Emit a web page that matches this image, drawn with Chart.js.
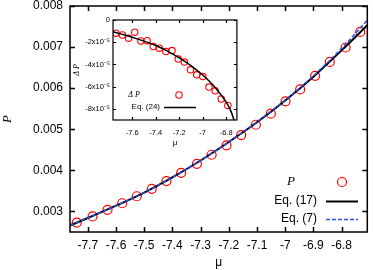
<!DOCTYPE html>
<html>
<head>
<meta charset="utf-8">
<script src="https://cdn.jsdelivr.net/npm/chart.js@4.4.0/dist/chart.umd.min.js"></script>
<style>
html, body { margin: 0; padding: 0; background: #fff; }
#wrap { position: relative; width: 373px; height: 270px; }
#main { position: absolute; left: 0; top: 0; }
#inset { position: absolute; left: 72px; top: 8px; }
</style>
</head>
<body>
<div id="wrap">
  <canvas id="main" width="373" height="270"></canvas>
  <canvas id="inset" width="170" height="142"></canvas>
</div>
<script>
// points
var muPts = [-7.739, -7.683, -7.630, -7.578, -7.526, -7.473, -7.421, -7.369, -7.313, -7.261,
             -7.208, -7.156, -7.104, -7.051, -6.999, -6.947, -6.894, -6.842, -6.786, -6.734];
var pPts = [0.00273, 0.00288, 0.00304, 0.00320, 0.00337, 0.00355, 0.00374, 0.00394, 0.00416, 0.00438,
            0.00461, 0.00486, 0.00511, 0.00538, 0.00568, 0.00597, 0.00630, 0.00664, 0.00699, 0.00737];

// curves Eq. (17) and Eq. (7)
var muLine = [-7.763, -7.7, -7.6, -7.5, -7.4, -7.3, -7.2, -7.1, -7.0, -6.9, -6.8, -6.709];
var eq17 = [0.00266, 0.00284, 0.00314, 0.00346, 0.00383, 0.00424, 0.00469, 0.00517, 0.00570, 0.00628, 0.00692, 0.00753];
var eq7 = [0.00266, 0.00284, 0.00314, 0.00346, 0.00383, 0.00424, 0.00469, 0.00518, 0.00571, 0.00630, 0.00697, 0.00765];

// inset: Delta P and Eq. (24)
var muDp = muPts.slice(0, 19);
var dP = [-1.19e-5, -1.35e-5, -1.64e-5, -1.10e-5, -1.88e-5, -1.86e-5, -2.39e-5, -2.54e-5, -2.84e-5, -2.75e-5,
          -3.52e-5, -3.79e-5, -4.48e-5, -4.93e-5, -5.09e-5, -6.04e-5, -6.37e-5, -7.11e-5, -7.69e-5];
var muEq24 = [-7.763, -7.7, -7.6, -7.5, -7.4, -7.3, -7.2, -7.1, -7.0, -6.9, -6.8, -6.76, -6.73];
var eq24 = [-1.05e-5, -1.25e-5, -1.55e-5, -1.9e-5, -2.3e-5, -2.8e-5, -3.4e-5, -4.1e-5, -4.95e-5, -6.0e-5, -7.4e-5, -8.2e-5, -9.1e-5];

// ticks
var xTicks = [-7.7, -7.6, -7.5, -7.4, -7.3, -7.2, -7.1, -7.0, -6.9, -6.8];
var xTickLabels = ['-7.7', '-7.6', '-7.5', '-7.4', '-7.3', '-7.2', '-7.1', '-7', '-6.9', '-6.8'];
var yTicks = [0.003, 0.004, 0.005, 0.006, 0.007, 0.008];
var yTickLabels = ['0.003', '0.004', '0.005', '0.006', '0.007', '0.008'];
var inXTicks = [-7.6, -7.4, -7.2, -7.0, -6.8];
var inXTickLabels = ['-7.6', '-7.4', '-7.2', '-7', '-6.8'];
var inYTicks = [0, -2e-5, -4e-5, -6e-5, -8e-5];
var inYTickLabels = ['0', '-2x10\u207B\u2075', '-4x10\u207B\u2075', '-6x10\u207B\u2075', '-8x10\u207B\u2075'];

Chart.defaults.font.family = '"Liberation Sans", Arial, sans-serif';
Chart.defaults.color = '#000';

function pairs(xs, ys) {
    return xs.map(function (x, i) { return { x: x, y: ys[i] }; });
}

function tickSetter(values) {
    return function (scale) { scale.ticks = values.map(function (v) { return { value: v }; }); };
}

function labelFrom(values, labels) {
    return function (v) {
        for (var i = 0; i < values.length; i++) if (Math.abs(values[i] - v) < 1e-9) return labels[i];
        return '';
    };
}

// fixed axis size, no extra label padding (layout padding decides the box)
function fixSize(size) {
    return function (s) {
        if (s.isHorizontal()) s.height = size; else s.width = size;
        s.paddingTop = 0; s.paddingBottom = 0; s.paddingLeft = 0; s.paddingRight = 0;
    };
}

// gnuplot style box with inward ticks on all four sides
var framePlugin = {
    id: 'frame',
    afterDraw: function (chart, args, opts) {
        var a = chart.chartArea, ctx = chart.ctx, L = opts.len;
        var sx = chart.scales.x, sy = chart.scales.y;
        ctx.save();
        ctx.strokeStyle = '#000';
        ctx.lineWidth = opts.width;
        ctx.beginPath();
        sx.ticks.forEach(function (t) {
            var px = Math.round(sx.getPixelForValue(t.value)) + 0.5;
            ctx.moveTo(px, a.bottom); ctx.lineTo(px, a.bottom - L);
            ctx.moveTo(px, a.top); ctx.lineTo(px, a.top + L);
        });
        sy.ticks.forEach(function (t) {
            var py = Math.round(sy.getPixelForValue(t.value)) + 0.5;
            ctx.moveTo(a.left, py); ctx.lineTo(a.left + L, py);
            ctx.moveTo(a.right, py); ctx.lineTo(a.right - L, py);
        });
        ctx.stroke();
        ctx.strokeRect(a.left, a.top, a.right - a.left, a.bottom - a.top);
        ctx.restore();
    }
};

// key drawn like gnuplot: text then sample
var keyPlugin = {
    id: 'gkey',
    afterDraw: function (chart, args, opts) {
        var ctx = chart.ctx;
        (opts.items || []).forEach(function (it) {
            var ds = chart.data.datasets[it.ds];
            ctx.save();
            ctx.font = it.font;
            ctx.fillStyle = '#000';
            ctx.textAlign = it.align;
            ctx.textBaseline = 'middle';
            ctx.fillText(it.text, it.tx, it.y);
            if (ds.showLine) {
                ctx.strokeStyle = ds.borderColor;
                ctx.lineWidth = ds.borderWidth;
                ctx.setLineDash(ds.borderDash || []);
                ctx.beginPath();
                ctx.moveTo(it.x1, it.y + 0.5);
                ctx.lineTo(it.x2, it.y + 0.5);
                ctx.stroke();
            } else {
                ctx.strokeStyle = ds.pointBorderColor;
                ctx.lineWidth = ds.pointBorderWidth;
                ctx.beginPath();
                ctx.arc(it.x1, it.y, ds.pointRadius, 0, Math.PI * 2);
                ctx.stroke();
            }
            ctx.restore();
        });
    }
};

var mainChart = new Chart(document.getElementById('main').getContext('2d'), {
    type: 'scatter',
    data: {
        datasets: [{
            label: 'Eq. (7)',
            data: pairs(muLine, eq7),
            showLine: true,
            borderColor: '#2a4fe6',
            borderWidth: 1.5,
            borderDash: [4, 2],
            pointRadius: 0,
            cubicInterpolationMode: 'monotone',
            order: 0
        }, {
            label: 'Eq. (17)',
            data: pairs(muLine, eq17),
            showLine: true,
            borderColor: '#000',
            borderWidth: 2,
            pointRadius: 0,
            cubicInterpolationMode: 'monotone',
            order: 1
        }, {
            label: 'P',
            data: pairs(muPts, pPts),
            showLine: false,
            pointStyle: 'circle',
            pointRadius: 4.5,
            pointBorderWidth: 1.2,
            pointBorderColor: '#ff0000',
            pointBackgroundColor: 'rgba(0,0,0,0)',
            order: 2
        }]
    },
    options: {
        responsive: false,
        animation: false,
        devicePixelRatio: 1,
        events: [],
        layout: { padding: { top: 6, right: 1, left: 0, bottom: 0 } },
        plugins: {
            legend: { display: false },
            tooltip: { enabled: false },
            frame: { len: 5, width: 1.5 },
            gkey: {
                items: [
                    { ds: 2, text: 'P', font: 'italic 13px "Liberation Serif", serif', align: 'center', tx: 291, y: 182, x1: 342 },
                    { ds: 1, text: 'Eq. (17)', font: '12px "Liberation Sans", Arial, sans-serif', align: 'right', tx: 317, y: 201, x1: 326, x2: 358 },
                    { ds: 0, text: 'Eq. (7)', font: '12px "Liberation Sans", Arial, sans-serif', align: 'right', tx: 317, y: 219, x1: 326, x2: 358 }
                ]
            }
        },
        scales: {
            x: {
                type: 'linear',
                min: -7.763,
                max: -6.709,
                grid: { display: false, drawTicks: false },
                border: { display: false },
                afterBuildTicks: tickSetter(xTicks),
                afterFit: fixSize(38),
                ticks: { padding: 6, font: { size: 12 }, maxRotation: 0, callback: labelFrom(xTicks, xTickLabels) },
                title: { display: true, text: '\u03BC', font: { size: 12 }, padding: 0 }
            },
            y: {
                type: 'linear',
                min: 0.0025,
                max: 0.008,
                grid: { display: false, drawTicks: false },
                border: { display: false },
                afterBuildTicks: tickSetter(yTicks),
                afterFit: fixSize(70),
                ticks: { padding: 7, font: { size: 12 }, callback: labelFrom(yTicks, yTickLabels) },
                title: { display: true, text: 'P', font: { size: 13, style: 'italic', family: '"Liberation Serif", serif' }, padding: 0 }
            }
        }
    },
    plugins: [framePlugin, keyPlugin]
});

var insetChart = new Chart(document.getElementById('inset').getContext('2d'), {
    type: 'scatter',
    data: {
        datasets: [{
            label: 'Eq. (24)',
            data: pairs(muEq24, eq24),
            showLine: true,
            borderColor: '#000',
            borderWidth: 1.5,
            pointRadius: 0,
            cubicInterpolationMode: 'monotone',
            order: 0
        }, {
            label: '\u0394P',
            data: pairs(muDp, dP),
            showLine: false,
            pointStyle: 'circle',
            pointRadius: 3.2,
            pointBorderWidth: 1.1,
            pointBorderColor: '#ff0000',
            pointBackgroundColor: 'rgba(0,0,0,0)',
            order: 1
        }]
    },
    options: {
        responsive: false,
        animation: false,
        devicePixelRatio: 1,
        events: [],
        layout: { padding: { top: 12, right: 4, left: 0, bottom: 0 } },
        plugins: {
            legend: { display: false },
            tooltip: { enabled: false },
            frame: { len: 3, width: 1.2 },
            gkey: {
                items: [
                    { ds: 1, text: '\u0394 P', font: 'italic 8px "Liberation Serif", serif', align: 'center', tx: 62, y: 87, x1: 107 },
                    { ds: 0, text: 'Eq. (24)', font: '8px "Liberation Sans", Arial, sans-serif', align: 'right', tx: 88, y: 99, x1: 92, x2: 124 }
                ]
            }
        },
        scales: {
            x: {
                type: 'linear',
                min: -7.763,
                max: -6.709,
                grid: { display: false, drawTicks: false },
                border: { display: false },
                afterBuildTicks: tickSetter(inXTicks),
                afterFit: fixSize(30),
                ticks: { padding: 8, font: { size: 7.5 }, maxRotation: 0, callback: labelFrom(inXTicks, inXTickLabels) },
                title: { display: true, text: '\u03BC', font: { size: 8 }, padding: { top: 0, bottom: 2 } }
            },
            y: {
                type: 'linear',
                min: -9e-5,
                max: 0,
                grid: { display: false, drawTicks: false },
                border: { display: false },
                afterBuildTicks: tickSetter(inYTicks),
                afterFit: fixSize(41),
                ticks: { padding: 3, font: { size: 7.5 }, callback: labelFrom(inYTicks, inYTickLabels) },
                title: { display: true, text: '\u0394 P', font: { size: 8, style: 'italic', family: '"Liberation Serif", serif' }, padding: 0 }
            }
        }
    },
    plugins: [framePlugin, keyPlugin]
});
</script>
</body>
</html>
